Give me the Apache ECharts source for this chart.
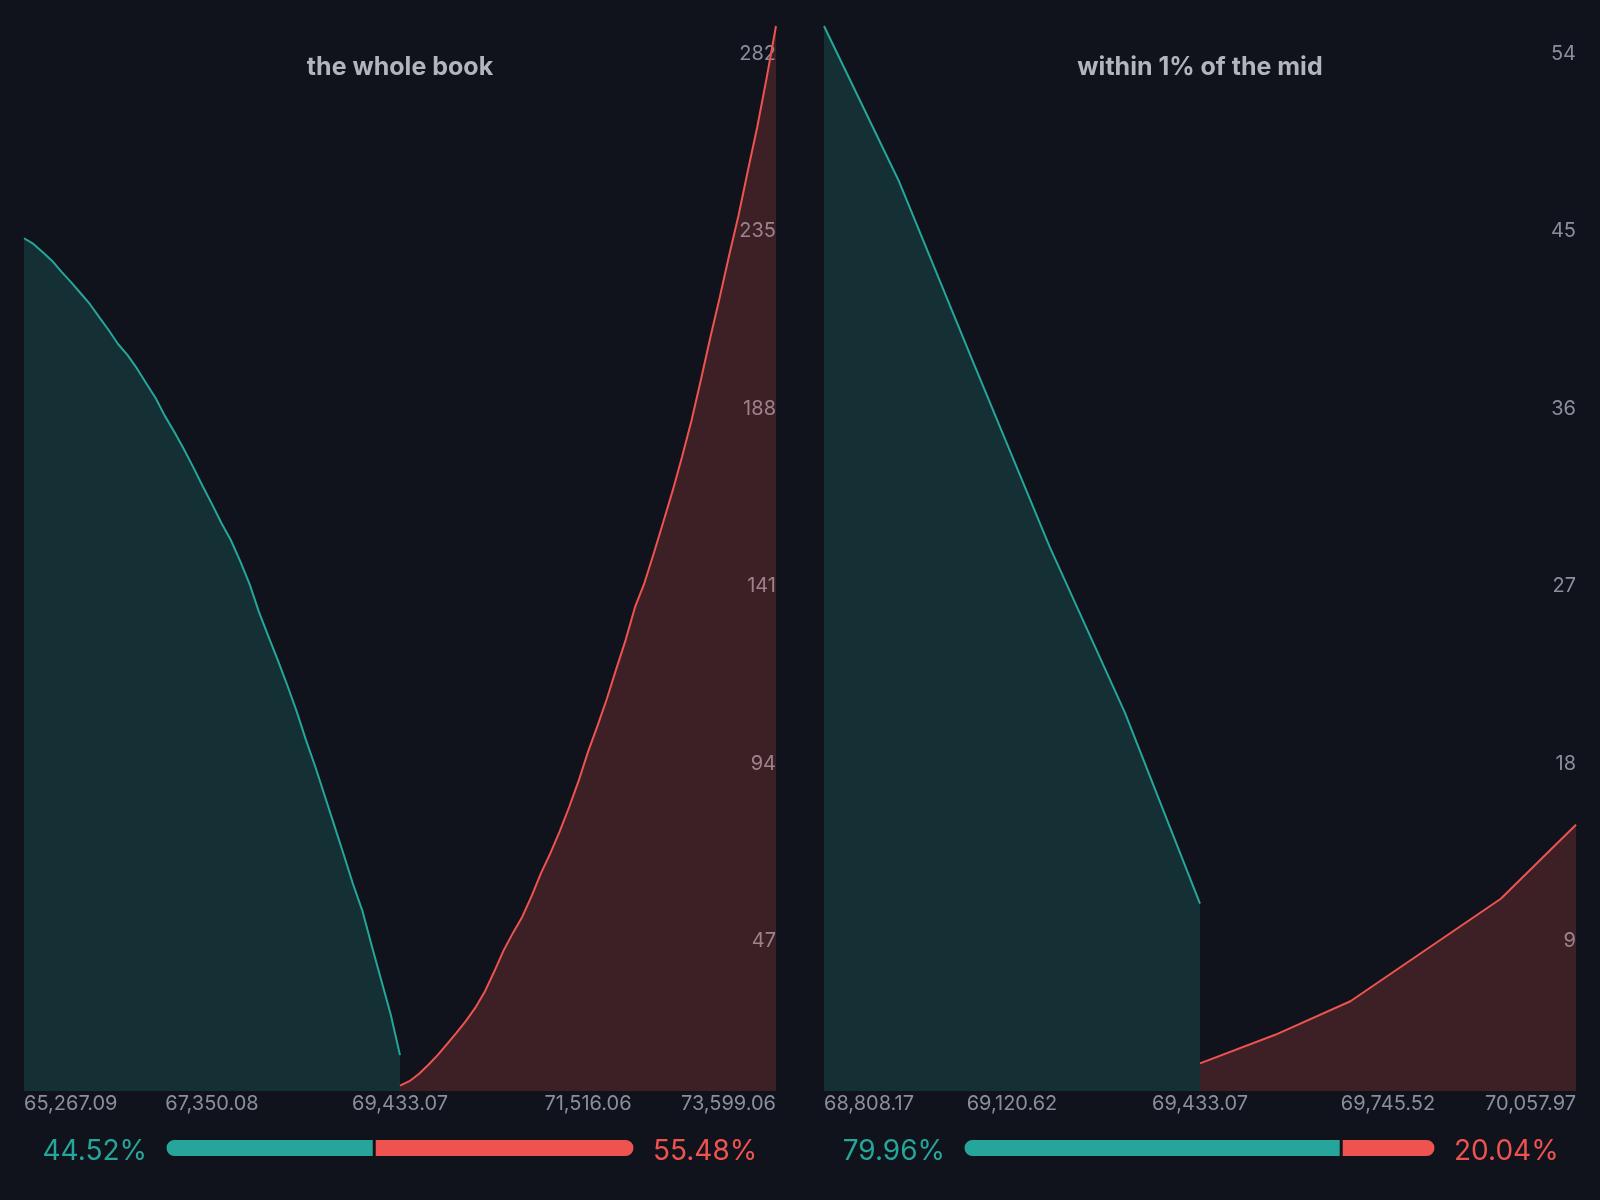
<!DOCTYPE html>
<html>
<head>
<meta charset="utf-8">
<script src="https://cdn.jsdelivr.net/npm/echarts/dist/echarts.min.js"></script>
<style>
html,body{margin:0;padding:0;background:#10131b;}
#chart{width:1600px;height:1200px;}
</style>
</head>
<body>
<div id="chart"></div>
<script>
// ---------- data ----------
const titles = ['the whole book', 'within 1% of the mid'];

const leftXTicks = [65267.09, 67350.08, 69433.07, 71516.06, 73599.06];
const rightXTicks = [68808.17, 69120.62, 69433.07, 69745.52, 70057.97];
const leftYTicks = [47, 94, 141, 188, 235, 282];
const rightYTicks = [9, 18, 27, 36, 45, 54];

const leftBidPrices = [65267.09, 65371.23, 65475.38, 65579.53, 65683.68, 65787.83, 65891.98, 65996.13, 66100.28, 66204.43,
  66308.58, 66412.73, 66516.88, 66621.03, 66725.18, 66829.33, 66933.48, 67037.63, 67141.78, 67245.93,
  67350.08, 67454.23, 67558.38, 67662.53, 67766.68, 67870.83, 67974.98, 68079.12, 68183.27, 68287.42,
  68391.57, 68495.72, 68599.87, 68704.02, 68808.17, 68912.32, 69016.47, 69120.62, 69224.77, 69328.92, 69433.07];
const leftBidDepth = [225.8, 224.3, 222.1, 219.8, 216.9, 214.2, 211.3, 208.4, 204.9, 201.5,
  197.8, 194.9, 191.4, 187.4, 183.5, 178.7, 174.5, 170.0, 165.2, 160.2,
  155.4, 150.4, 145.9, 140.3, 134.2, 126.8, 120.4, 114.1, 107.5, 100.6,
  92.9, 85.8, 78.1, 70.4, 62.7, 54.8, 47.7, 38.4, 29.4, 20.4, 9.5];

const leftAskPrices = [69433.07, 69537.22, 69641.37, 69745.52, 69849.67, 69953.82, 70057.97, 70162.12, 70266.27, 70370.42,
  70474.57, 70578.72, 70682.87, 70787.02, 70891.16, 70995.31, 71099.46, 71203.61, 71307.76, 71411.91,
  71516.06, 71620.21, 71724.36, 71828.51, 71932.66, 72036.81, 72140.96, 72245.11, 72349.26, 72453.41,
  72557.56, 72661.71, 72765.86, 72870.01, 72974.16, 73078.31, 73182.46, 73286.61, 73390.76, 73494.91, 73599.06];
const leftAskDepth = [1.4, 2.6, 4.5, 6.9, 9.5, 12.4, 15.4, 18.5, 22.0, 26.2,
  31.5, 37.1, 41.8, 46.1, 51.6, 57.7, 63.0, 68.8, 75.2, 82.1,
  89.8, 96.6, 103.8, 111.7, 119.4, 128.1, 134.5, 142.4, 150.6, 158.9,
  167.9, 177.4, 188.2, 199.4, 210.0, 221.1, 231.7, 243.6, 255.2, 268.2, 282];

const rightBidPrices = [68808.17, 68933.15, 69058.13, 69183.11, 69308.09, 69433.07];
const rightBidDepth = [54, 46.1, 36.8, 27.6, 19.2, 9.5];
const rightAskPrices = [69433.07, 69558.05, 69683.03, 69808.01, 69932.99, 70057.97];
const rightAskDepth = [1.4, 2.85, 4.55, 7.15, 9.75, 13.5];

const leftShares = [44.52, 55.48];
const rightShares = [79.96, 20.04];

// ---------- style ----------
const BG = '#10131b';
const TEAL = '#26a69a';
const RED = '#ef5350';
const TITLE_C = '#b2b5be';
const AXIS_C = '#8b8f9b';
const FONT = 'Inter, "Noto Sans", sans-serif';

const zip = (xs, ys) => xs.map((x, i) => [x, ys[i]]);
const fmtPrice = v => Number(v).toLocaleString('en-US', {minimumFractionDigits: 2, maximumFractionDigits: 2});

function xAxisFor(gi, ticks) {
  return {
    type: 'value', gridIndex: gi,
    min: ticks[0], max: ticks[ticks.length - 1],
    axisLine: {show: false}, axisTick: {show: false}, splitLine: {show: false},
    axisLabel: {
      customValues: ticks, formatter: fmtPrice,
      color: AXIS_C, fontSize: 20, fontFamily: FONT, margin: 3,
      alignMinLabel: 'left', alignMaxLabel: 'right'
    }
  };
}
function yAxisFor(gi, ticks) {
  return {
    type: 'value', gridIndex: gi, position: 'right',
    min: 0, max: ticks[ticks.length - 1],
    axisLine: {show: false}, axisTick: {show: false}, splitLine: {show: false},
    axisLabel: {
      inside: true, customValues: ticks, margin: 0,
      verticalAlign: 'top', padding: [17.5, 0, 0, 0],
      color: AXIS_C, fontSize: 20, fontFamily: FONT
    }
  };
}
function depthSeries(gi, data, color) {
  return {
    type: 'line', xAxisIndex: gi, yAxisIndex: gi, data: data,
    showSymbol: false, symbol: 'none', silent: true, clip: false,
    lineStyle: {color: color, width: 2},
    areaStyle: {color: color, opacity: 0.2}
  };
}
function shareSeries(gi, value, color, side) {
  return {
    type: 'bar', xAxisIndex: gi, yAxisIndex: gi, stack: 'share' + gi,
    data: [value], barWidth: 19, silent: true,
    itemStyle: {
      color: color, borderColor: BG, borderWidth: 1.5,
      borderRadius: side === 'left' ? [9.5, 0, 0, 9.5] : [0, 9.5, 9.5, 0]
    },
    label: {
      show: true, position: side, distance: 18, offset: [0, 4],
      formatter: p => p.value.toFixed(2) + '%',
      color: color, fontSize: 28, fontFamily: FONT, fontWeight: 400
    }
  };
}

const option = {
  backgroundColor: BG,
  animation: false,
  title: [
    {text: titles[0], left: 400, top: 55, textAlign: 'center', padding: 0,
     textStyle: {color: TITLE_C, fontSize: 25, fontWeight: 700, fontFamily: FONT}},
    {text: titles[1], left: 1200, top: 55, textAlign: 'center', padding: 0,
     textStyle: {color: TITLE_C, fontSize: 25, fontWeight: 700, fontFamily: FONT}}
  ],
  grid: [
    {left: 24, width: 752, top: 26, height: 1065},
    {left: 824, width: 752, top: 26, height: 1065},
    {left: 165, width: 470, top: 1138.5, height: 19},
    {left: 963, width: 473, top: 1138.5, height: 19}
  ],
  xAxis: [
    xAxisFor(0, leftXTicks),
    xAxisFor(1, rightXTicks),
    {type: 'value', gridIndex: 2, min: 0, max: 100, show: false},
    {type: 'value', gridIndex: 3, min: 0, max: 100, show: false}
  ],
  yAxis: [
    yAxisFor(0, leftYTicks),
    yAxisFor(1, rightYTicks),
    {type: 'category', gridIndex: 2, data: ['share'], show: false},
    {type: 'category', gridIndex: 3, data: ['share'], show: false}
  ],
  series: [
    depthSeries(0, zip(leftBidPrices, leftBidDepth), TEAL),
    depthSeries(0, zip(leftAskPrices, leftAskDepth), RED),
    depthSeries(1, zip(rightBidPrices, rightBidDepth), TEAL),
    depthSeries(1, zip(rightAskPrices, rightAskDepth), RED),
    shareSeries(2, leftShares[0], TEAL, 'left'),
    shareSeries(2, leftShares[1], RED, 'right'),
    shareSeries(3, rightShares[0], TEAL, 'left'),
    shareSeries(3, rightShares[1], RED, 'right')
  ]
};

const chart = echarts.init(document.getElementById('chart'), null, {renderer: 'canvas', width: 1600, height: 1200});
chart.setOption(option);
</script>
</body>
</html>
